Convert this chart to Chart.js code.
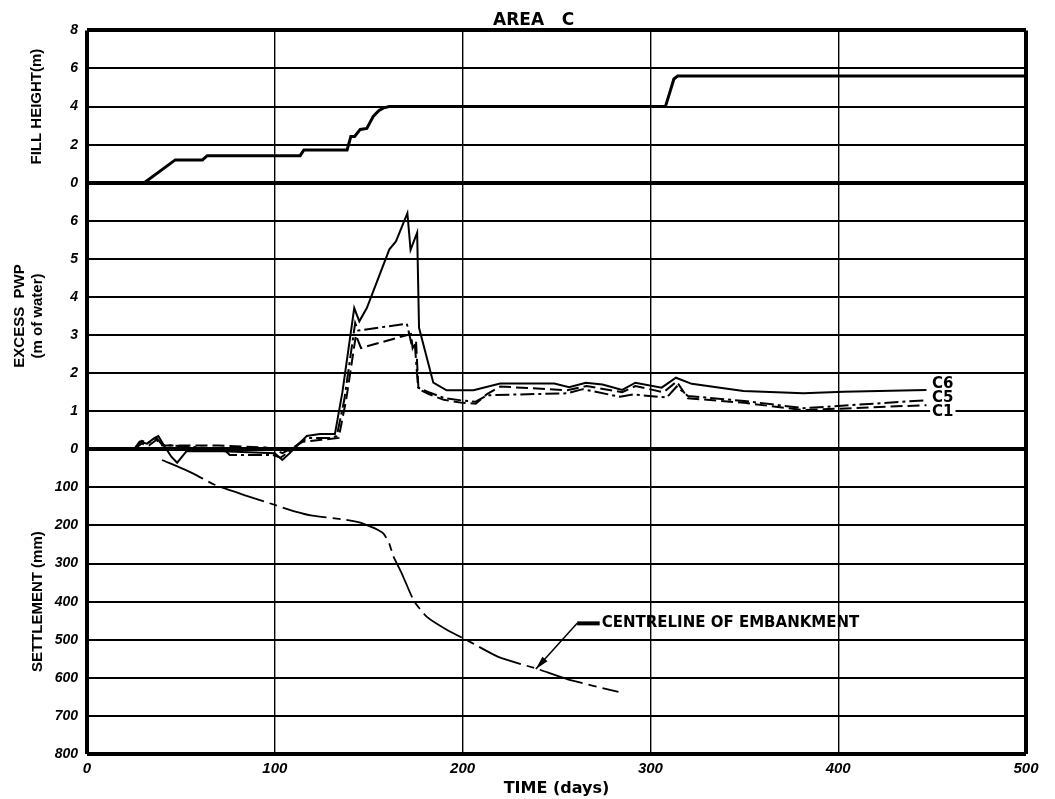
<!DOCTYPE html>
<html>
<head>
<meta charset="utf-8">
<title>Area C</title>
<script src="https://cdn.jsdelivr.net/npm/chart.js@4.4.1/dist/chart.umd.min.js"></script>
<style>
  body { margin: 0; background: #fff; }
  #wrap { width: 1055px; height: 799px; }
</style>
</head>
<body>
<div id="wrap"><canvas id="graficaAreaC"></canvas></div>
<script>
// fill height (m) against time (days)
const fillDays   = [0, 30.5, 47, 61.5, 64, 113.5, 115.5, 138.5, 140.5, 142.5, 145.5, 149, 152.5, 155.5, 158, 161, 308, 310.5, 312.5, 314.5, 500];
const fillHeight = [0, 0, 1.2, 1.2, 1.42, 1.42, 1.72, 1.72, 2.43, 2.43, 2.8, 2.85, 3.5, 3.8, 3.93, 4.0, 4.0, 4.8, 5.45, 5.6, 5.6];

// excess pore water pressure (m of water)
const c6Days = [25, 28, 32, 36, 38, 41, 45, 48, 53, 72, 100, 104, 108, 113, 117, 124, 132, 136, 142.3, 145, 149, 161, 164.5, 170.6, 172.3, 175.8, 176.8, 184.4, 191.5, 205.8, 220, 248.8, 256.7, 265.6, 274.5, 285, 292, 306, 313.6, 322, 349.5, 381.5, 402.8, 447];
const c6Pwp  = [0, 0.2, 0.15, 0.3, 0.35, 0.1, -0.2, -0.35, -0.05, -0.05, -0.1, -0.28, -0.1, 0.15, 0.35, 0.4, 0.4, 1.5, 3.71, 3.36, 3.71, 5.25, 5.46, 6.2, 5.24, 5.69, 3.19, 1.75, 1.55, 1.55, 1.73, 1.73, 1.63, 1.75, 1.7, 1.56, 1.75, 1.62, 1.88, 1.72, 1.53, 1.47, 1.51, 1.56];

const c5Days = [25, 29, 33, 37, 40, 45, 60, 73, 76, 99, 103, 108, 114, 118, 130, 133, 137, 142.8, 144.4, 170.3, 173.3, 174.5, 176.3, 182, 190, 200, 207, 213, 255.7, 264, 283.8, 291, 308.7, 314, 320, 350, 381.5, 447];
const c5Pwp  = [0, 0.22, 0.18, 0.3, 0.12, 0.1, 0.05, 0.0, -0.15, -0.15, -0.22, -0.05, 0.2, 0.3, 0.3, 0.35, 1.3, 3.32, 3.12, 3.3, 2.66, 2.8, 1.62, 1.5, 1.35, 1.28, 1.25, 1.42, 1.47, 1.58, 1.38, 1.44, 1.36, 1.65, 1.4, 1.27, 1.08, 1.29];

const c1Days = [25, 29, 33, 37, 40, 45, 70, 95, 100, 104, 110, 115, 125, 134, 138, 143.2, 145.9, 172.5, 173.4, 175.2, 176.5, 182, 190, 200, 207, 213, 220, 255.7, 266, 285, 292, 307, 314, 320, 350, 381.5, 447];
const c1Pwp  = [0, 0.15, 0.1, 0.25, 0.1, 0.1, 0.1, 0.05, 0, -0.1, 0.05, 0.2, 0.25, 0.3, 1.3, 3.0, 2.66, 3.03, 2.66, 2.84, 1.58, 1.45, 1.3, 1.22, 1.2, 1.45, 1.65, 1.55, 1.66, 1.5, 1.66, 1.5, 1.78, 1.34, 1.22, 1.03, 1.16];

// settlement (mm) at centreline of embankment
const setDays = [40, 55, 68, 85, 100, 110, 120, 138, 145, 151, 155, 158, 161, 163, 168, 174, 181, 192, 203, 219, 240, 256, 283];
const setMm   = [28, 60, 93, 122, 146, 162, 174, 185, 192, 203, 212, 222, 248, 279, 330, 397, 440, 475, 503, 545, 577, 604, 637];

// labels
const seriesNames = ['C6', 'C5', 'C1'];
const labelDay = 450;
const labelPwp = [1.71, 1.35, 0.98];
const noteText = 'CENTRELINE OF EMBANKMENT';
const noteAt   = [273, 457];
const noteBend = [261, 457];
const noteTip  = [239, 577];

const tickFont = { family: 'Liberation Sans', size: 14, style: 'italic', weight: 'bold' };
const xTickFont = { family: 'Liberation Sans', size: 15, style: 'italic', weight: 'bold' };
const titleFont = { family: 'Liberation Sans', size: 15, weight: 'bold' };

function pts(xs, ys) {
  return xs.map((v, i) => ({ x: v, y: ys[i] }));
}

function edgeWidth(lo, hi, inner) {
  return ctx => (ctx.tick && (ctx.tick.value === lo || ctx.tick.value === hi)) ? 4 : inner;
}

const notes = {
  id: 'notes',
  afterDatasetsDraw(chart) {
    const { ctx, scales } = chart;
    const x = scales.x, yP = scales.yPwp, yS = scales.ySet;
    ctx.save();
    ctx.font = 'bold 15px "DejaVu Sans"';
    ctx.textBaseline = 'middle';
    seriesNames.forEach((name, i) => {
      const px = x.getPixelForValue(labelDay);
      const py = yP.getPixelForValue(labelPwp[i]);
      const w = ctx.measureText(name).width;
      ctx.fillStyle = '#fff';
      ctx.fillRect(px - 2, py - 8, w + 4, 16);
      ctx.fillStyle = '#000';
      ctx.fillText(name, px, py);
    });

    const tx = x.getPixelForValue(noteAt[0]), ty = yS.getPixelForValue(noteAt[1]);
    const bx = x.getPixelForValue(noteBend[0]), by = yS.getPixelForValue(noteBend[1]);
    const ax = x.getPixelForValue(noteTip[0]), ay = yS.getPixelForValue(noteTip[1]);
    ctx.fillStyle = '#000';
    ctx.fillText(noteText, tx + 2, ty);
    ctx.strokeStyle = '#000';
    ctx.lineWidth = 4;
    ctx.beginPath();
    ctx.moveTo(bx, by);
    ctx.lineTo(tx, ty);
    ctx.stroke();
    ctx.lineWidth = 1.5;
    ctx.beginPath();
    ctx.moveTo(bx, by);
    ctx.lineTo(ax, ay);
    ctx.stroke();
    const ang = Math.atan2(ay - by, ax - bx);
    ctx.beginPath();
    ctx.moveTo(ax, ay);
    ctx.lineTo(ax - 14 * Math.cos(ang - 0.25), ay - 14 * Math.sin(ang - 0.25));
    ctx.lineTo(ax - 14 * Math.cos(ang + 0.25), ay - 14 * Math.sin(ang + 0.25));
    ctx.closePath();
    ctx.fill();
    ctx.restore();
  }
};

const ctx = document.getElementById('graficaAreaC').getContext('2d');
new Chart(ctx, {
  type: 'line',
  data: {
    datasets: [
      { label: 'Fill height', data: pts(fillDays, fillHeight), yAxisID: 'yFill',
        borderColor: '#000', borderWidth: 3, pointRadius: 0, tension: 0 },
      { label: 'C6', data: pts(c6Days, c6Pwp), yAxisID: 'yPwp',
        borderColor: '#000', borderWidth: 2, pointRadius: 0, tension: 0, clip: false },
      { label: 'C5', data: pts(c5Days, c5Pwp), yAxisID: 'yPwp',
        borderColor: '#000', borderWidth: 2, borderDash: [14, 4, 3, 4], pointRadius: 0, tension: 0, clip: false },
      { label: 'C1', data: pts(c1Days, c1Pwp), yAxisID: 'yPwp',
        borderColor: '#000', borderWidth: 2, borderDash: [12, 5], pointRadius: 0, tension: 0, clip: false },
      { label: 'Settlement', data: pts(setDays, setMm), yAxisID: 'ySet',
        borderColor: '#000', borderWidth: 1.8, borderDash: [45, 6, 8, 6], pointRadius: 0, tension: 0.2 }
    ]
  },
  options: {
    responsive: true,
    maintainAspectRatio: false,
    animation: false,
    events: [],
    layout: { padding: { left: 0, right: 29, top: 0, bottom: 0 } },
    plugins: {
      legend: { display: false },
      tooltip: { enabled: false },
      title: {
        display: true,
        text: '       AREA   C',
        color: '#000',
        font: { family: 'DejaVu Sans', size: 17, weight: 'bold' },
        padding: { top: 10, bottom: 0 }
      }
    },
    scales: {
      x: {
        type: 'linear',
        min: 0, max: 500,
        afterFit: s => { s.height = 45; },
        border: { display: false },
        grid: { color: '#000', lineWidth: edgeWidth(0, 500, 1.4), drawTicks: false },
        ticks: { stepSize: 100, color: '#000', font: xTickFont, padding: 6, maxRotation: 0 },
        title: { display: true, text: 'TIME (days)', color: '#000',
          font: { family: 'DejaVu Sans', size: 16, weight: 'bold' }, padding: { top: 0, bottom: 1 } }
      },
      yFill: {
        type: 'linear', position: 'left', stack: 'panels', stackWeight: 4, weight: 3,
        min: 0, max: 8,
        afterFit: s => { s.width = 87; },
        border: { display: false },
        grid: { color: '#000', lineWidth: edgeWidth(0, 8, 2), drawTicks: false },
        ticks: { stepSize: 2, color: '#000', font: tickFont, padding: 9 },
        title: { display: true, text: 'FILL HEIGHT(m)', color: '#000', font: titleFont,
          padding: { top: 28, bottom: 0 } }
      },
      yPwp: {
        type: 'linear', position: 'left', stack: 'panels', stackWeight: 7, weight: 2,
        min: 0, max: 7,
        afterFit: s => { s.width = 87; },
        border: { display: false },
        grid: { color: '#000', lineWidth: edgeWidth(0, 7, 2), drawTicks: false },
        ticks: { stepSize: 1, color: '#000', font: tickFont, padding: 9,
          callback: v => (v === 7 ? '' : v) },
        title: { display: true, text: ['EXCESS  PWP', '(m of water)'], color: '#000', font: titleFont,
          padding: { top: 11, bottom: 0 } }
      },
      ySet: {
        type: 'linear', position: 'left', stack: 'panels', stackWeight: 8, weight: 1,
        min: 0, max: 800, reverse: true,
        afterFit: s => { s.width = 87; },
        border: { display: false },
        grid: { color: '#000', lineWidth: edgeWidth(0, 800, 2), drawTicks: false },
        ticks: { stepSize: 100, color: '#000', font: tickFont, padding: 9,
          callback: v => (v === 0 ? '' : v) },
        title: { display: true, text: 'SETTLEMENT (mm)', color: '#000', font: titleFont,
          padding: { top: 29, bottom: 0 } }
      }
    }
  },
  plugins: [notes]
});
</script>
</body>
</html>
